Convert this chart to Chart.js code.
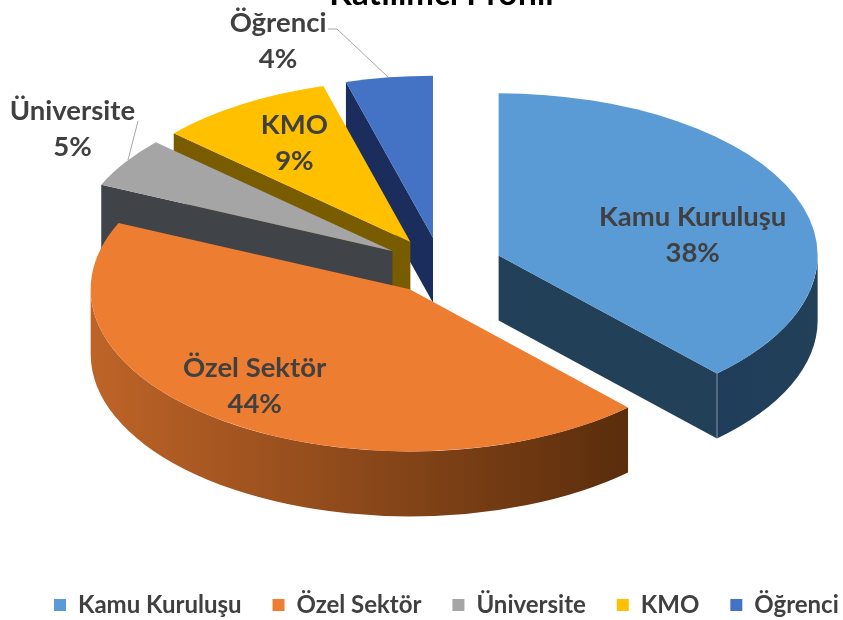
<!DOCTYPE html>
<html lang="tr">
<head>
<meta charset="utf-8">
<title>Katılımcı Profili</title>
<script src="https://cdn.jsdelivr.net/npm/chart.js@4"></script>
<style>
  html, body { margin: 0; padding: 0; background: #fff; overflow: hidden; height: 620px; }
  #wrap { position: relative; width: 843px; height: 620px; overflow: hidden; }
  #pieChart { position: absolute; left: 0; top: -25px; }
</style>
</head>
<body>
<div id="wrap"><canvas id="pieChart" width="900" height="652"></canvas></div>
<script>
const categories = ['Kamu Kuruluşu', 'Özel Sektör', 'Üniversite', 'KMO', 'Öğrenci'];
// the labels round them
const values = [38, 43.7, 5, 8.9, 4.4];
const chartTitle = 'Katılımcı Profili';

const topColors = ['#5B9BD5', '#ED7D31', '#A5A5A5', '#FFC000', '#4472C4'];
const wallColors = [['#1F3D5A', '#234059'], ['#BE6428', '#5A2D0C'], ['#404040', '#404040'], ['#7F6000', '#7F6000'], ['#203864', '#203864']];
const cutColors = ['#234059', '#8A4A1C', '#404347', '#7A5C00', '#1B2D5C'];

// page pixels; the canvas sits above the page so the title gets cut off like the original
const canvasTop = 25;
const pieCenter = { x: 441, y: 267 };
const squash = 0.508;
const explode = [62, 54, 58, 58, 58];
const depth = 65;
const drawOrder = [4, 3, 2, 0, 1];

// label centre relative to the slice tip
const labelShift = [[194, -20], [-155, 97], [-320, -122], [-116, -99], [-155, -197]];
const leaders = [
    [[138, 121], [128, 160]],
    [[328, 29], [337, 29], [388, 77]]
];

function sliceTip(arc, i) {
    const mid = (arc.startAngle + arc.endAngle) / 2;
    return {
        x: pieCenter.x + Math.cos(mid) * explode[i],
        y: pieCenter.y + Math.sin(mid) * explode[i] * squash
    };
}

const fake3d = {
    id: 'fake3d',
    afterLayout(chart) {
        // legend needs the wide box, the title is centred further left
        chart.titleBlock.right -= 40;
    },
    beforeDatasetsDraw(chart) {
        const ctx = chart.ctx;
        const arcs = chart.getDatasetMeta(0).data;
        const total = values.reduce((a, b) => a + b, 0);
        ctx.save();
        ctx.translate(0, canvasTop);

        drawOrder.forEach(i => {
            const arc = arcs[i];
            const r = arc.outerRadius;
            const tip = sliceTip(arc, i);
            const ox = tip.x, oy = tip.y;
            const pt = a => [ox + r * Math.cos(a), oy + r * squash * Math.sin(a)];

            function cutFace(a) {
                const p = pt(a);
                ctx.beginPath();
                ctx.moveTo(ox, oy);
                ctx.lineTo(p[0], p[1]);
                ctx.lineTo(p[0], p[1] + depth);
                ctx.lineTo(ox, oy + depth);
                ctx.closePath();
                ctx.fillStyle = cutColors[i];
                ctx.fill();
            }
            if (Math.cos(arc.startAngle) < 0) cutFace(arc.startAngle);
            if (Math.cos(arc.endAngle) > 0) cutFace(arc.endAngle);

            // outer wall, only the part facing the viewer
            const lo = Math.max(arc.startAngle, 0);
            const hi = Math.min(arc.endAngle, Math.PI);
            if (hi > lo) {
                const x1 = pt(lo)[0], x2 = pt(hi)[0];
                const grad = ctx.createLinearGradient(x2, 0, x1, 0);
                grad.addColorStop(0, wallColors[i][0]);
                grad.addColorStop(1, wallColors[i][1]);
                ctx.beginPath();
                ctx.ellipse(ox, oy, r, r * squash, 0, lo, hi);
                ctx.ellipse(ox, oy + depth, r, r * squash, 0, hi, lo, true);
                ctx.closePath();
                ctx.fillStyle = grad;
                ctx.fill();
            }

            // light line on the corner where cut face meets the wall
            if (i === 0) {
                const c = pt(arc.endAngle);
                ctx.strokeStyle = 'rgba(255,255,255,0.3)';
                ctx.lineWidth = 1.5;
                ctx.beginPath();
                ctx.moveTo(c[0], c[1]);
                ctx.lineTo(c[0], c[1] + depth);
                ctx.stroke();
            }

            ctx.save();
            ctx.translate(ox, oy);
            ctx.scale(1, squash);
            ctx.translate(-arc.x, -arc.y);
            arc.draw(ctx);
            ctx.restore();
        });

        ctx.strokeStyle = '#A6A6A6';
        ctx.lineWidth = 1;
        leaders.forEach(line => {
            ctx.beginPath();
            line.forEach((p, n) => n ? ctx.lineTo(p[0], p[1]) : ctx.moveTo(p[0], p[1]));
            ctx.stroke();
        });

        ctx.fillStyle = '#404040';
        ctx.font = 'bold 27.5px Lato';
        ctx.textAlign = 'center';
        ctx.textBaseline = 'middle';
        arcs.forEach((arc, i) => {
            const tip = sliceTip(arc, i);
            const x = tip.x + labelShift[i][0];
            const y = tip.y + labelShift[i][1];
            ctx.fillText(categories[i], x, y - 18);
            ctx.fillText(Math.round(values[i] / total * 100) + '%', x, y + 18);
        });

        ctx.restore();
        return false;
    }
};

new Chart(document.getElementById('pieChart'), {
    type: 'pie',
    data: {
        labels: categories,
        datasets: [{
            data: values,
            backgroundColor: topColors,
            borderWidth: 0
        }]
    },
    options: {
        responsive: false,
        animation: false,
        radius: 319,
        layout: { padding: { left: 23, right: 0, top: 0, bottom: 0 } },
        plugins: {
            title: {
                display: true,
                text: chartTitle,
                color: '#000000',
                font: { family: 'Lato', size: 33, weight: 'bold' },
                padding: 0
            },
            legend: {
                position: 'bottom',
                align: 'start',
                labels: {
                    color: '#404040',
                    font: { family: 'Lato', size: 24, weight: 'bold' },
                    boxWidth: 12,
                    boxHeight: 12,
                    padding: 31
                }
            },
            tooltip: { enabled: false }
        }
    },
    plugins: [fake3d]
});
</script>
</body>
</html>
